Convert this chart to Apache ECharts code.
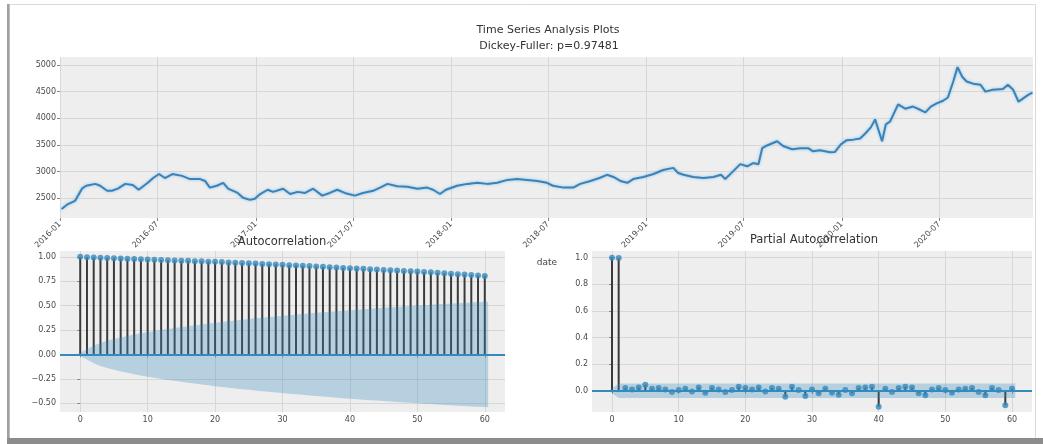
<!DOCTYPE html>
<html>
<head>
<meta charset="utf-8">
<script src="https://cdn.jsdelivr.net/npm/echarts@6/dist/echarts.min.js"></script>
<style>
  html, body { margin: 0; padding: 0; background: #ffffff; }
  #chart { width: 1043px; height: 444px; }
</style>
</head>
<body>
<div id="chart"></div>
<script>
// ---- price series (top panel) ----
const priceDates = [
  '2016-01-04','2016-01-14','2016-01-29','2016-02-11','2016-02-19','2016-03-07','2016-03-16','2016-03-29',
  '2016-04-07','2016-04-18','2016-05-02','2016-05-16','2016-05-27','2016-06-13','2016-06-23','2016-07-04',
  '2016-07-15','2016-07-29','2016-08-16','2016-08-31','2016-09-19','2016-09-28','2016-10-07','2016-10-20',
  '2016-11-01','2016-11-10','2016-11-28','2016-12-08','2016-12-21','2016-12-30','2017-01-09','2017-01-23',
  '2017-02-02','2017-02-21','2017-03-06','2017-03-20','2017-04-03','2017-04-18','2017-05-05','2017-05-19',
  '2017-06-02','2017-06-16','2017-07-05','2017-07-20','2017-08-08','2017-08-21','2017-09-04','2017-09-22',
  '2017-10-11','2017-10-30','2017-11-17','2017-11-28','2017-12-11','2017-12-22','2018-01-12','2018-01-31',
  '2018-02-19','2018-03-09','2018-03-28','2018-04-16','2018-05-04','2018-05-23','2018-06-11','2018-06-29',
  '2018-07-10','2018-07-30','2018-08-17','2018-08-30','2018-09-18','2018-10-05','2018-10-19','2018-10-31',
  '2018-11-13','2018-11-26','2018-12-07','2018-12-26','2019-01-14','2019-02-01','2019-02-20','2019-03-01',
  '2019-03-11','2019-03-29','2019-04-17','2019-05-06','2019-05-20','2019-05-28','2019-06-12','2019-06-25',
  '2019-07-08','2019-07-19','2019-07-29','2019-08-05','2019-08-14','2019-09-02','2019-09-13','2019-09-30',
  '2019-10-15','2019-10-30','2019-11-08','2019-11-21','2019-12-10','2019-12-19','2019-12-30','2020-01-10',
  '2020-01-22','2020-02-04','2020-02-14','2020-02-24','2020-03-03','2020-03-09','2020-03-16','2020-03-23',
  '2020-03-31','2020-04-06','2020-04-15','2020-04-28','2020-05-13','2020-05-26','2020-06-05','2020-06-15',
  '2020-06-26','2020-07-08','2020-07-17','2020-07-27','2020-08-04','2020-08-13','2020-08-21','2020-09-02',
  '2020-09-16','2020-09-25','2020-10-09','2020-10-28','2020-11-06','2020-11-16','2020-11-26','2020-12-04',
  '2020-12-14','2020-12-22'
];
const priceValues = [
  2300, 2380, 2450, 2680, 2735, 2770, 2735, 2640,
  2640, 2680, 2770, 2750, 2660, 2790, 2880, 2955,
  2880, 2955, 2920, 2860, 2860, 2825, 2700, 2735,
  2790, 2680, 2600, 2510, 2470, 2490, 2580, 2660,
  2620, 2680, 2580, 2620, 2600, 2680, 2550, 2600,
  2660, 2600, 2550, 2600, 2640, 2700, 2770, 2725,
  2715, 2680, 2700, 2660, 2580, 2660, 2735, 2770,
  2790, 2770, 2790, 2845, 2860, 2845, 2825, 2790,
  2735, 2700, 2700, 2770, 2825, 2880, 2940, 2900,
  2825, 2790, 2860, 2900, 2955, 3030, 3070, 2975,
  2940, 2900, 2880, 2900, 2940, 2860, 3010, 3140,
  3100, 3160, 3140, 3440, 3490, 3570, 3480, 3420,
  3440, 3440, 3380, 3400, 3365, 3370, 3510, 3590,
  3600, 3620, 3720, 3830, 3980, 3790, 3570, 3885,
  3940, 4070, 4260, 4180, 4220, 4160, 4110, 4220,
  4280, 4330, 4390, 4690, 4960, 4775, 4690, 4650,
  4630, 4500, 4535, 4550, 4630, 4535, 4310, 4370,
  4440, 4480
];
const dateTicks = [
  '2016-01-01','2016-07-01','2017-01-01','2017-07-01','2018-01-01',
  '2018-07-01','2019-01-01','2019-07-01','2020-01-01','2020-07-01'
];
const dateRange = ['2016-01-01', '2020-12-23'];
const priceTicks = [2500, 3000, 3500, 4000, 4500, 5000];

// ---- autocorrelation (lags 0..60) ----
const acfValues = [
  1.000, 0.997, 0.994, 0.991, 0.989, 0.986, 0.984, 0.981, 0.979, 0.976,
  0.973, 0.971, 0.968, 0.966, 0.963, 0.961, 0.959, 0.956, 0.954, 0.951,
  0.949, 0.946, 0.943, 0.940, 0.937, 0.934, 0.931, 0.928, 0.925, 0.922,
  0.919, 0.915, 0.912, 0.908, 0.905, 0.901, 0.898, 0.894, 0.891, 0.887,
  0.884, 0.880, 0.877, 0.873, 0.870, 0.866, 0.863, 0.859, 0.856, 0.852,
  0.849, 0.845, 0.841, 0.836, 0.832, 0.828, 0.823, 0.819, 0.814, 0.810,
  0.805
];
// half width of the 95% confidence band around zero
const acfBand = [
  0.000, 0.053, 0.091, 0.118, 0.139, 0.158, 0.174, 0.189, 0.203, 0.216,
  0.228, 0.240, 0.251, 0.261, 0.271, 0.281, 0.290, 0.299, 0.308, 0.317,
  0.325, 0.333, 0.341, 0.348, 0.356, 0.363, 0.370, 0.377, 0.383, 0.390,
  0.396, 0.402, 0.408, 0.414, 0.420, 0.426, 0.432, 0.437, 0.443, 0.448,
  0.454, 0.459, 0.464, 0.469, 0.473, 0.478, 0.483, 0.487, 0.492, 0.496,
  0.501, 0.505, 0.509, 0.513, 0.517, 0.521, 0.525, 0.529, 0.533, 0.537,
  0.540
];

// ---- partial autocorrelation (lags 0..60) ----
const pacfValues = [
  1.000, 0.997, 0.020, 0.010, 0.025, 0.045, 0.015, 0.020, 0.010, -0.010,
  0.005, 0.015, -0.005, 0.025, -0.015, 0.020, 0.010, -0.010, 0.005, 0.030,
  0.020, 0.010, 0.025, -0.005, 0.020, 0.015, -0.045, 0.030, 0.005, -0.040,
  0.010, -0.020, 0.015, -0.015, -0.030, 0.005, -0.020, 0.020, 0.025, 0.030,
  -0.120, 0.015, -0.010, 0.020, 0.030, 0.025, -0.020, -0.035, 0.010, 0.020,
  0.005, -0.015, 0.010, 0.015, 0.020, -0.010, -0.035, 0.020, 0.005, -0.110,
  0.015
];
const pacfBand = [
  0.000, 0.054, 0.054, 0.054, 0.054, 0.054, 0.054, 0.054, 0.054, 0.054,
  0.054, 0.054, 0.054, 0.054, 0.054, 0.054, 0.054, 0.054, 0.054, 0.054,
  0.054, 0.054, 0.054, 0.054, 0.054, 0.054, 0.054, 0.054, 0.054, 0.054,
  0.054, 0.054, 0.054, 0.054, 0.054, 0.054, 0.054, 0.054, 0.054, 0.054,
  0.054, 0.054, 0.054, 0.054, 0.054, 0.054, 0.054, 0.054, 0.054, 0.054,
  0.054, 0.054, 0.054, 0.054, 0.054, 0.054, 0.054, 0.054, 0.054, 0.054,
  0.054
];
const lagTicks = [0, 10, 20, 30, 40, 50, 60];
const acfTicks = [-0.5, -0.25, 0, 0.25, 0.5, 0.75, 1.0];
const pacfTicks = [0, 0.2, 0.4, 0.6, 0.8, 1.0];

// ---- styling ----
const FONT = 'DejaVu Sans';
const BLUE = '#348ABD';
const BAND = 'rgba(52,138,189,0.30)';
const STEM = '#3a3a3a';
const PANEL_BG = '#eeeeee';
const GRID_LINE = '#d7d7d7';
const LABEL = '#4a4a4a';

const chart = echarts.init(document.getElementById('chart'), null, { renderer: 'canvas' });

// dates are placed on a numeric axis as millisecond timestamps
const toTime = s => +echarts.number.parseDate(s);
const fmtMonth = v => {
  const d = new Date(v);
  return d.getFullYear() + '-' + String(d.getMonth() + 1).padStart(2, '0');
};
const minus = s => s.replace('-', '\u2212');

function baseAxis(extra) {
  return Object.assign({
    axisLine: { show: false },
    axisTick: { show: true, length: 3, lineStyle: { color: '#888' } },
    axisLabel: { color: LABEL, fontSize: 8, fontFamily: FONT, margin: 4 },
    splitLine: { show: true, lineStyle: { color: GRID_LINE, width: 1 } }
  }, extra);
}
function withCustom(axis, values) {
  axis.axisTick = Object.assign({}, axis.axisTick, { customValues: values });
  axis.axisLabel = Object.assign({}, axis.axisLabel, { customValues: values });
  return axis;
}

// stems, markers, zero line and confidence band of a correlogram
function correlogram(values, band, axisIdx, name) {
  const stems = values.map((v, i) => [i, v]);
  const bx = i => (i === 0 ? -0.5 : i === values.length - 1 ? i + 0.5 : i);
  const bandSide = sign => ({
    type: 'line', name: name + (sign > 0 ? '-upper' : '-lower'),
    xAxisIndex: axisIdx, yAxisIndex: axisIdx,
    data: band.map((w, i) => [bx(i), sign * w]),
    showSymbol: false, symbol: 'none', lineStyle: { width: 0, opacity: 0 },
    areaStyle: { color: BAND, opacity: 1, origin: 0 }, z: 4, silent: true
  });
  return [
    {
      type: 'bar', name: name + '-stems', xAxisIndex: axisIdx, yAxisIndex: axisIdx,
      data: stems, barWidth: 2, itemStyle: { color: STEM }, silent: true, z: 2
    },
    {
      type: 'scatter', name: name + '-markers', xAxisIndex: axisIdx, yAxisIndex: axisIdx,
      data: stems, symbol: 'circle', symbolSize: 6,
      itemStyle: { color: BLUE }, z: 3, silent: true,
      markLine: {
        silent: true, symbol: ['none', 'none'], label: { show: false },
        lineStyle: { color: BLUE, width: 2, type: 'solid' },
        data: [{ yAxis: 0 }]
      }
    },
    bandSide(1),
    bandSide(-1)
  ];
}

const option = {
  backgroundColor: '#ffffff',
  animation: false,
  grid: [
    { left: 60, top: 57, width: 973, height: 161, show: true, backgroundColor: PANEL_BG, borderWidth: 0 },
    { left: 60, top: 251, width: 445, height: 161, show: true, backgroundColor: PANEL_BG, borderWidth: 0 },
    { left: 592, top: 251, width: 440, height: 161, show: true, backgroundColor: PANEL_BG, borderWidth: 0 }
  ],
  xAxis: [
    withCustom(baseAxis({
      type: 'value', gridIndex: 0, min: toTime(dateRange[0]), max: toTime(dateRange[1]),
      axisLabel: { color: LABEL, fontSize: 8, fontFamily: FONT, margin: 5, rotate: 45, formatter: fmtMonth }
    }), dateTicks.map(toTime)),
    withCustom(baseAxis({ type: 'value', gridIndex: 1, min: -3, max: 63 }), lagTicks),
    withCustom(baseAxis({ type: 'value', gridIndex: 2, min: -3, max: 63 }), lagTicks)
  ],
  yAxis: [
    withCustom(baseAxis({
      type: 'value', gridIndex: 0, min: 2130, max: 5150,
      axisLabel: { color: LABEL, fontSize: 8, fontFamily: FONT, margin: 4, formatter: v => String(v) }
    }), priceTicks),
    withCustom(baseAxis({
      type: 'value', gridIndex: 1, min: -0.59, max: 1.06,
      axisLabel: { color: LABEL, fontSize: 8, fontFamily: FONT, margin: 4, formatter: v => minus(v.toFixed(2)) }
    }), acfTicks),
    withCustom(baseAxis({
      type: 'value', gridIndex: 2, min: -0.16, max: 1.05,
      axisLabel: { color: LABEL, fontSize: 8, fontFamily: FONT, margin: 4, formatter: v => minus(v.toFixed(1)) }
    }), pacfTicks)
  ],
  series: [
    {
      type: 'line', name: 'price', xAxisIndex: 0, yAxisIndex: 0,
      data: priceDates.map((d, i) => [toTime(d), priceValues[i]]),
      showSymbol: false, symbol: 'none', silent: true,
      lineStyle: { color: '#3b82b8', width: 2, shadowColor: 'rgba(110,185,230,0.8)', shadowBlur: 3 },
      z: 3
    }
  ].concat(correlogram(acfValues, acfBand, 1, 'acf'))
   .concat(correlogram(pacfValues, pacfBand, 2, 'pacf')),
  graphic: [
    // page frame
    { type: 'rect', silent: true, z: 0, shape: { x: 9.5, y: 4.5, width: 1026, height: 434 },
      style: { fill: 'none', stroke: '#dadada', lineWidth: 1 } },
    { type: 'rect', silent: true, z: 1, shape: { x: 7, y: 4, width: 2.5, height: 436 },
      style: { fill: '#a0a0a0' } },
    { type: 'rect', silent: true, z: 1, shape: { x: 7, y: 438, width: 1036, height: 6 },
      style: { fill: '#8c8c8c' } },
    // titles
    { type: 'text', silent: true, x: 548, y: 30,
      style: { text: 'Time Series Analysis Plots', fontFamily: FONT, fontSize: 11, fill: '#333',
               align: 'center', verticalAlign: 'middle' } },
    { type: 'text', silent: true, x: 549, y: 46,
      style: { text: 'Dickey-Fuller: p=0.97481', fontFamily: FONT, fontSize: 11, fill: '#333',
               align: 'center', verticalAlign: 'middle' } },
    { type: 'text', silent: true, x: 282, y: 242,
      style: { text: 'Autocorrelation', fontFamily: FONT, fontSize: 11.5, fill: '#333',
               align: 'center', verticalAlign: 'middle' } },
    { type: 'text', silent: true, x: 814, y: 240,
      style: { text: 'Partial Autocorrelation', fontFamily: FONT, fontSize: 11.5, fill: '#333',
               align: 'center', verticalAlign: 'middle' } },
    { type: 'text', silent: true, x: 547, y: 263,
      style: { text: 'date', fontFamily: FONT, fontSize: 9, fill: '#444',
               align: 'center', verticalAlign: 'middle' } }
  ]
};

chart.setOption(option);
</script>
</body>
</html>
